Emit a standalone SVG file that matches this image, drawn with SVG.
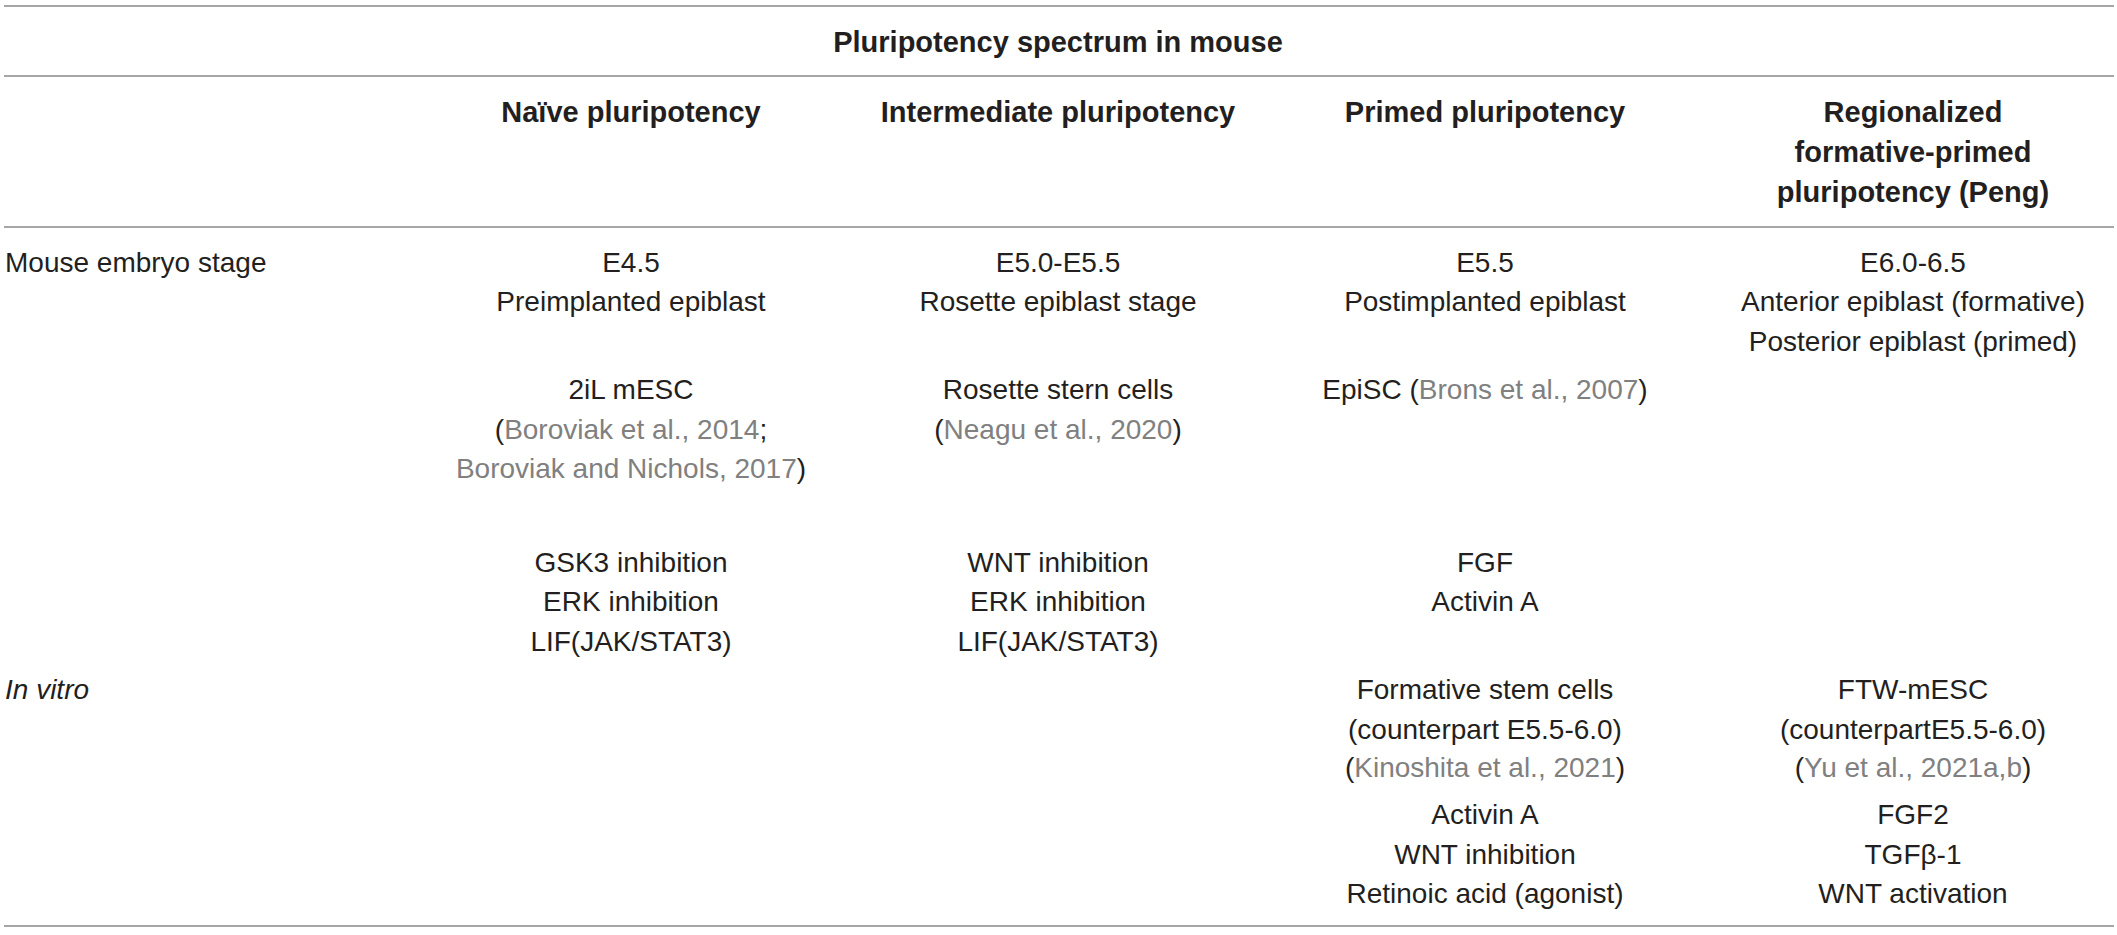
<svg xmlns="http://www.w3.org/2000/svg" width="2117" height="935" viewBox="0 0 2117 935">
<style>
text{font-family:"Liberation Sans",Arial,Helvetica,sans-serif;font-size:28px;fill:#231f20}
.b{font-weight:bold;font-size:29px}
.c{text-anchor:middle}
.g{fill:#808080}
.i{font-style:italic}
.rule{stroke:#a6a6a6;stroke-width:2}
</style>
<rect width="2117" height="935" fill="#ffffff"/>
<g id="rules">
<line class="rule" x1="4" y1="6" x2="2114" y2="6"/>
<line class="rule" x1="4" y1="76" x2="2114" y2="76"/>
<line class="rule" x1="4" y1="227" x2="2114" y2="227"/>
<line class="rule" x1="4" y1="926" x2="2114" y2="926"/>
</g>
<g id="title"><text class="b c" x="1058" y="52">Pluripotency spectrum in mouse</text></g>
<g id="headers">
<text class="b c" x="631" y="122">Naïve pluripotency</text>
<text class="b c" x="1058" y="122">Intermediate pluripotency</text>
<text class="b c" x="1485" y="122">Primed pluripotency</text>
<text class="b c" x="1913" y="122">Regionalized</text>
<text class="b c" x="1913" y="162">formative-primed</text>
<text class="b c" x="1913" y="202">pluripotency (Peng)</text>
</g>
<g id="row-labels">
<text x="5" y="272">Mouse embryo stage</text>
<text class="i" x="5" y="699">In vitro</text>
</g>
<g id="col-naive">
<text class="c" x="631" y="272">E4.5</text>
<text class="c" x="631" y="311">Preimplanted epiblast</text>
<text class="c" x="631" y="399">2iL mESC</text>
<text class="c" x="631" y="439">(<tspan class="g">Boroviak et al., 2014</tspan>;</text>
<text class="c" x="631" y="478"><tspan class="g">Boroviak and Nichols, 2017</tspan>)</text>
<text class="c" x="631" y="572">GSK3 inhibition</text>
<text class="c" x="631" y="611">ERK inhibition</text>
<text class="c" x="631" y="651">LIF(JAK/STAT3)</text>
</g>
<g id="col-intermediate">
<text class="c" x="1058" y="272">E5.0-E5.5</text>
<text class="c" x="1058" y="311">Rosette epiblast stage</text>
<text class="c" x="1058" y="399">Rosette stern cells</text>
<text class="c" x="1058" y="439">(<tspan class="g">Neagu et al., 2020</tspan>)</text>
<text class="c" x="1058" y="572">WNT inhibition</text>
<text class="c" x="1058" y="611">ERK inhibition</text>
<text class="c" x="1058" y="651">LIF(JAK/STAT3)</text>
</g>
<g id="col-primed">
<text class="c" x="1485" y="272">E5.5</text>
<text class="c" x="1485" y="311">Postimplanted epiblast</text>
<text class="c" x="1485" y="399">EpiSC (<tspan class="g">Brons et al., 2007</tspan>)</text>
<text class="c" x="1485" y="572">FGF</text>
<text class="c" x="1485" y="611">Activin A</text>
<text class="c" x="1485" y="699">Formative stem cells</text>
<text class="c" x="1485" y="739">(counterpart E5.5-6.0)</text>
<text class="c" x="1485" y="777">(<tspan class="g">Kinoshita et al., 2021</tspan>)</text>
<text class="c" x="1485" y="824">Activin A</text>
<text class="c" x="1485" y="864">WNT inhibition</text>
<text class="c" x="1485" y="903">Retinoic acid (agonist)</text>
</g>
<g id="col-regionalized">
<text class="c" x="1913" y="272">E6.0-6.5</text>
<text class="c" x="1913" y="311">Anterior epiblast (formative)</text>
<text class="c" x="1913" y="351">Posterior epiblast (primed)</text>
<text class="c" x="1913" y="699">FTW-mESC</text>
<text class="c" x="1913" y="739">(counterpartE5.5-6.0)</text>
<text class="c" x="1913" y="777">(<tspan class="g">Yu et al., 2021a,b</tspan>)</text>
<text class="c" x="1913" y="824">FGF2</text>
<text class="c" x="1913" y="864">TGFβ-1</text>
<text class="c" x="1913" y="903">WNT activation</text>
</g>
</svg>
